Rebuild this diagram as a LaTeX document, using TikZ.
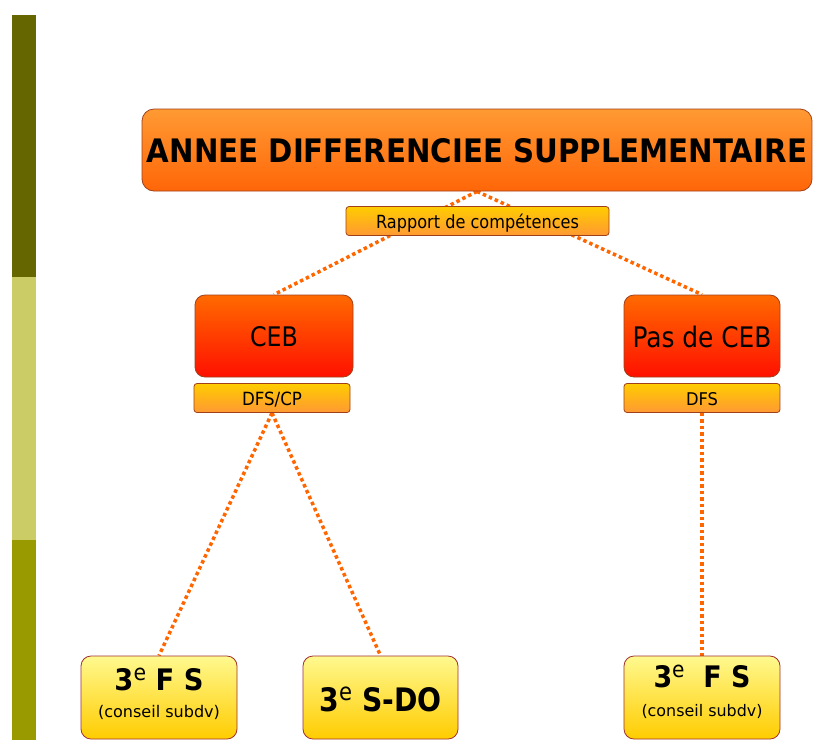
\documentclass[tikz,border=0pt]{standalone}
\usepackage{fontspec}
\setmainfont{DejaVu Sans}
\usetikzlibrary{backgrounds}
\definecolor{barA}{HTML}{666600}
\definecolor{barB}{HTML}{CCCC66}
\definecolor{barC}{HTML}{999900}
\definecolor{lineC}{HTML}{FF6600}
\definecolor{edgeC}{HTML}{A0401A}
\definecolor{edgeD}{HTML}{A03030}
\definecolor{orTop}{HTML}{FF9A33}
\definecolor{orBot}{HTML}{FF6608}
\definecolor{redTop}{HTML}{FF6A00}
\definecolor{redBot}{HTML}{FF1000}
\definecolor{goldTop}{HTML}{FFCC00}
\definecolor{goldBot}{HTML}{FF9933}
\definecolor{paleTop}{HTML}{FFF98F}
\definecolor{paleBot}{HTML}{FFCC00}
\newcommand{\supE}{\raisebox{3.2pt}{\fontsize{7.5}{9}\selectfont\mdseries e}}
\begin{document}
\begin{tikzpicture}[x=1pt,y=-1pt,
  boxbase/.style={rectangle, draw=edgeC, line width=0.8pt, inner sep=0pt, text=black},
  titlebox/.style={boxbase, rounded corners=12pt, top color=orTop, bottom color=orBot, minimum width=670pt, minimum height=82pt},
  redbox/.style={boxbase, rounded corners=10pt, top color=redTop, bottom color=redBot, minimum width=158pt, minimum height=82pt},
  tagbox/.style={boxbase, rounded corners=3pt, top color=goldTop, bottom color=goldBot, minimum height=29pt},
  palebox/.style={boxbase, draw=edgeD, rounded corners=10pt, top color=paleTop, bottom color=paleBot, minimum width=156pt, minimum height=83pt},
  bl/.style={text height=#1, text depth=0pt},
  bd/.style={text height=0pt, text depth=#1},
  link/.style={draw=lineC, line width=3.5pt, dash pattern=on 3.5pt off 3pt},
  subtext/.style={inner sep=0pt, anchor=base}
]
\useasboundingbox (0,0) rectangle (813,740);
\begin{scope}[on background layer]
  \fill[white] (0,0) rectangle (813,740);
\end{scope}
% left bar
\fill[barA] (12,15) rectangle (36,277);
\fill[barB] (12,277) rectangle (36,540);
\fill[barC] (12,540) rectangle (36,740);

% nodes
\node[titlebox, bl=24pt] (top) at (477,150) {\resizebox{660pt}{24pt}{\bfseries ANNEE DIFFERENCIEE SUPPLEMENTAIRE}};
\node[tagbox, minimum width=263pt, bl=14.6pt] (rap) at (477.5,221) {\resizebox{203pt}{14.5pt}{Rapport de compétences}};

\node[redbox, bl=21.4pt] (ceb) at (274,336) {\resizebox{48pt}{20pt}{CEB}};
\node[tagbox, minimum width=156pt, bl=14pt] (dfscp) at (272,398) {\resizebox{60pt}{13.5pt}{DFS/CP}};

\node[redbox, minimum width=156pt, bl=22pt] (pas) at (702,336) {\resizebox{139pt}{21.5pt}{Pas de CEB}};
\node[tagbox, minimum width=156pt, bl=14pt] (dfs) at (702,398) {\resizebox{32pt}{13pt}{DFS}};

\node[palebox, bd=15pt] (fsa) at (159,697.5) {\resizebox{89pt}{22pt}{\fontsize{10}{12}\selectfont\bfseries 3\supE\ F S}};
\node[subtext] (fsasub) at ([yshift=-20pt]fsa.center) {\resizebox{122pt}{!}{(conseil subdv)}};

\node[palebox, minimum width=155pt, bl=27pt] (sdo) at (380.5,697.5) {\resizebox{122pt}{24pt}{\fontsize{10}{12}\selectfont\bfseries 3\supE\ S-DO}};

\node[palebox, bd=21pt] (fsb) at (702,697.5) {\resizebox{97pt}{22pt}{\fontsize{10}{12}\selectfont\bfseries 3\supE\ \ F S}};
\node[subtext] (fsbsub) at ([yshift=-19pt]fsb.center) {\resizebox{121pt}{!}{(conseil subdv)}};

% connectors
\begin{scope}[on background layer]
  \draw[link] (top.south) -- (ceb.north);
  \draw[link] (top.south) -- (pas.north);
  \draw[link] (dfscp.south) -- (fsa.north);
  \draw[link] (dfscp.south) -- (sdo.north);
  \draw[link] (dfs.south) -- (fsb.north);
\end{scope}
\end{tikzpicture}
\end{document}
